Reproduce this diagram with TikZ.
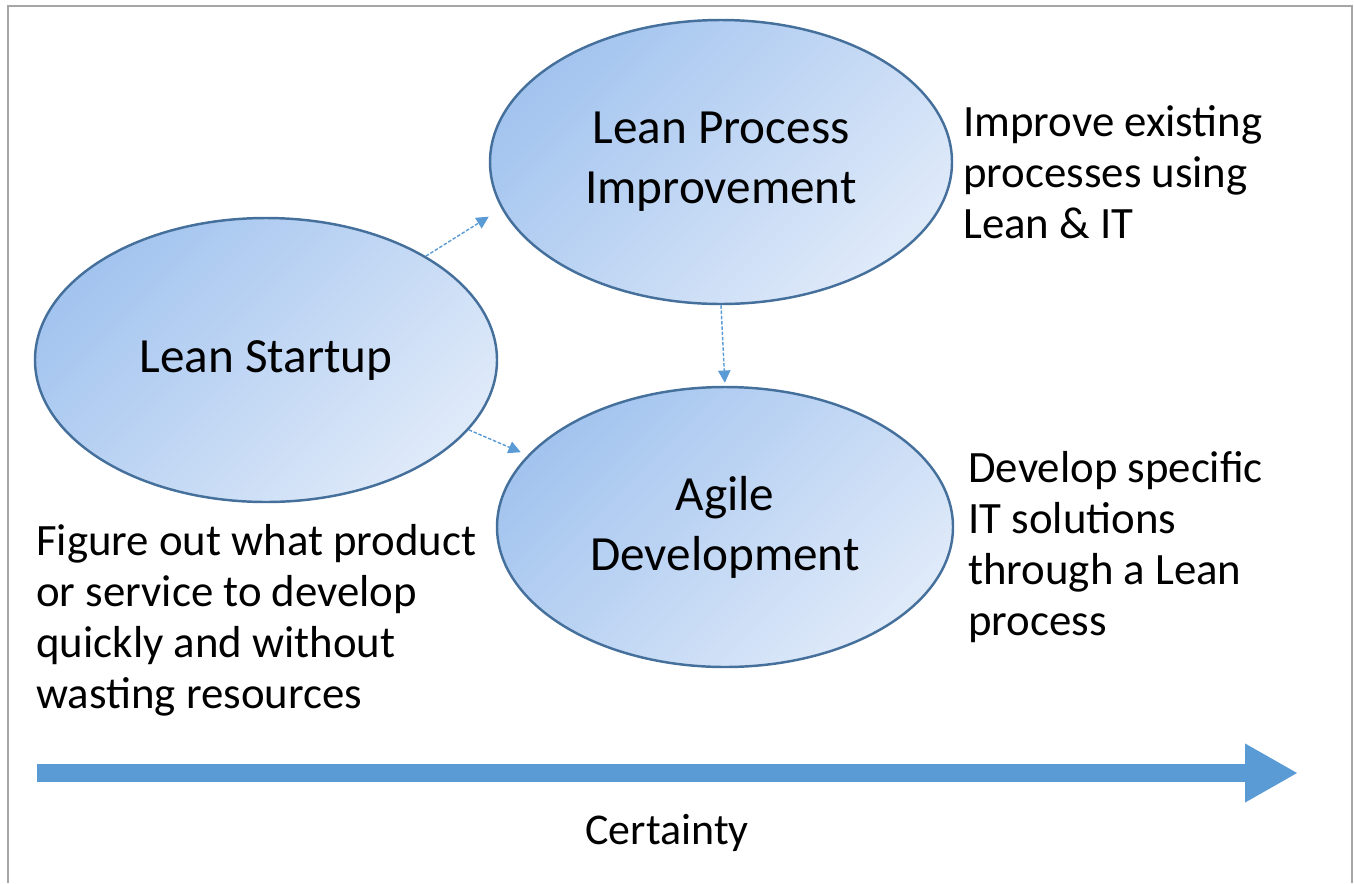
\documentclass[tikz,border=0pt]{standalone}
\usepackage{fontspec}
\setmainfont{Carlito}
\usepackage{xcolor}
\usetikzlibrary{arrows.meta,shapes.geometric}

\definecolor{ovaldark}{HTML}{A3C4EF}
\definecolor{ovallight}{HTML}{DFEAF9}
\definecolor{ovalline}{HTML}{46709C}
\definecolor{arrowblue}{HTML}{5B9BD5}
\definecolor{framegray}{HTML}{A6A6A6}

\tikzset{
  oval/.style={ellipse, draw=ovalline, line width=1.4pt, top color=ovaldark,
    bottom color=ovallight, shading angle=45, minimum width=9.24cm,
    minimum height=5.68cm, inner sep=0pt, align=center,
    font=\fontsize{28}{34}\selectfont},
  note/.style={anchor=west, align=left, inner sep=0pt, font=\fontsize{25.5}{29}\selectfont},
  link/.style={arrowblue, line width=0.8pt, dash pattern=on 2pt off 1pt,
    -{Triangle[length=7pt,width=7pt]}}
}

\begin{document}
\begin{tikzpicture}
  \useasboundingbox (0,0) rectangle (27.08,-17.66);
  % frame
  \draw[framegray, line width=1.2pt] (0.16,-17.66) -- (0.16,-0.12) -- (27.04,-0.12) -- (27.04,-17.66);

  \node[oval] (startup) at (5.32,-7.2) {Lean Startup};
  \node[oval] (lpi) at (14.42,-3.24) {Lean Process\\Improvement};
  \node[oval, minimum width=9.12cm, minimum height=5.6cm] (agile) at (14.5,-10.54) {Agile\\Development};

  \node[note] (lpinote) at (19.26,-3.44) {Improve existing\\processes using\\Lean \& IT};
  \node[note] (agilenote) at (19.36,-10.94) {Develop specific\\IT solutions\\through a Lean\\process};
  \node[note] (startnote) at (0.72,-12.4) {Figure out what product\\or service to develop\\quickly and without\\wasting resources};

  \draw[link, shorten >=0.3cm] (startup.33) -- (lpi.192);
  \draw[link, shorten >=0.15cm] (startup.-19) -- (agile.160);
  \draw[link, shorten >=0.06cm] (lpi.south) -- (agile.north);

  % certainty axis
  \coordinate (axisstart) at (0.74,-15.46);
  \coordinate (axisend) at (25.96,-15.46);
  \draw[arrowblue, line width=0.36cm, -{Triangle[length=1.06cm,width=1.1cm]}] (axisstart) -- (axisend);
  \node[font=\fontsize{25}{29}\selectfont] (certainty) at (13.34,-16.66) {Certainty};
\end{tikzpicture}
\end{document}
